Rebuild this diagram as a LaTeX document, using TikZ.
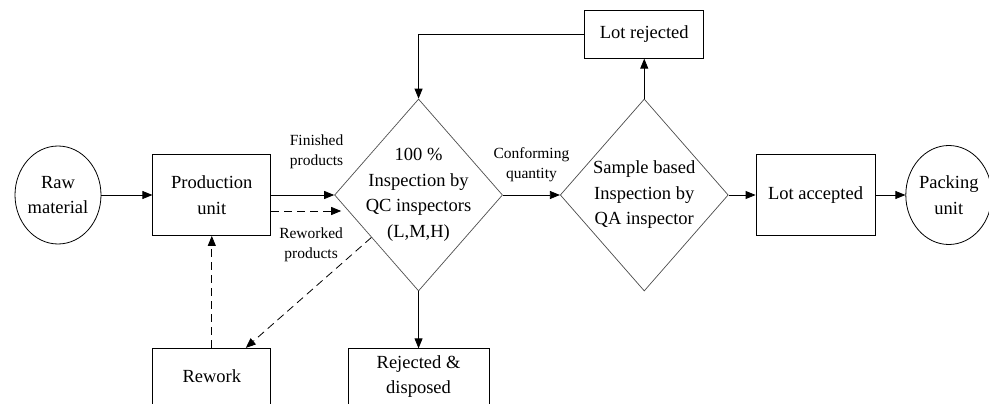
\documentclass[tikz,border=0pt]{standalone}
\usepackage{fontspec}
\setmainfont{Liberation Serif}
\usetikzlibrary{
  positioning,
  shapes.geometric,
  arrows.meta
}
\tikzset{unit/.style={
  draw, line width=0.8pt,
  align=center, inner sep=0pt,
  font=\fontsize{18.5}{25.5}\selectfont
}}
\tikzset{term/.style={unit, ellipse}}
\tikzset{check/.style={
  diamond, draw=black!70, line width=0.7pt,
  align=center, inner sep=-30pt,
  minimum width=168pt, minimum height=192pt,
  font=\fontsize{18.5}{25.5}\selectfont
}}
\tikzset{lbl/.style={align=center, inner sep=2pt, font=\fontsize{15.5}{20}\selectfont}}
\tikzset{flow/.style={line width=0.8pt, -{Triangle[length=10pt,width=8pt]}}}
\tikzset{back/.style={flow, dash pattern=on 8pt off 5pt}}

\begin{document}
\begin{tikzpicture}[x=1pt,y=1pt]
    \useasboundingbox (0,0) rectangle (989,-404);
    \node (raw) [term,minimum width=86pt,minimum height=98pt] at (58,-195) {Raw\\material};
    \node (prod) [unit,right=51pt of raw,minimum width=118pt,minimum height=81pt] {Production\\unit};
    \node (qc) [check,right=63pt of prod] {100 \%\\Inspection by\\QC inspectors\\(L,M,H)};
    \node (qa) [check,right=57pt of qc] {Sample based\\Inspection by\\QA inspector};
    \node (acc) [unit,right=27pt of qa,minimum width=119pt,minimum height=81pt] {Lot accepted};
    \node (pack) [term,right=30pt of acc,minimum width=86pt,minimum height=99pt] {Packing\\unit};
    \node (lotrej) [unit,above=40pt of qa,minimum width=119pt,minimum height=48pt] {Lot rejected};
    \node (rework) [unit,below=112pt of prod,minimum width=118pt,minimum height=56pt] {Rework};
    \node (rej) [unit,below=57pt of qc,minimum width=141pt,minimum height=56pt] {Rejected \&\\disposed};
    \coordinate (rwin) at ([shift={(7pt,-16pt)}]qc.west);
    \draw [flow] (raw) -- (prod);
    \draw [flow] (prod) -- node [lbl,above=24pt,pos=0.72] {Finished\\products} (qc);
    \draw [back] ([yshift=-16pt]prod.east) -- node [lbl,below=14pt,pos=0.57] {Reworked\\products} (rwin);
    \draw [back] (qc.222) -- ([xshift=34pt]rework.north);
    \draw [back] (rework) -- (prod);
    \draw [flow] (qc) -- (rej);
    \draw [flow] (qc) -- node [lbl,above=11pt] {Conforming\\quantity} (qa);
    \draw [flow] (qa) -- (lotrej);
    \draw [flow] (lotrej.west) -| (qc.north);
    \draw [flow] (qa) -- (acc);
    \draw [flow] (acc) -- (pack);
  \end{tikzpicture}
\end{document}
